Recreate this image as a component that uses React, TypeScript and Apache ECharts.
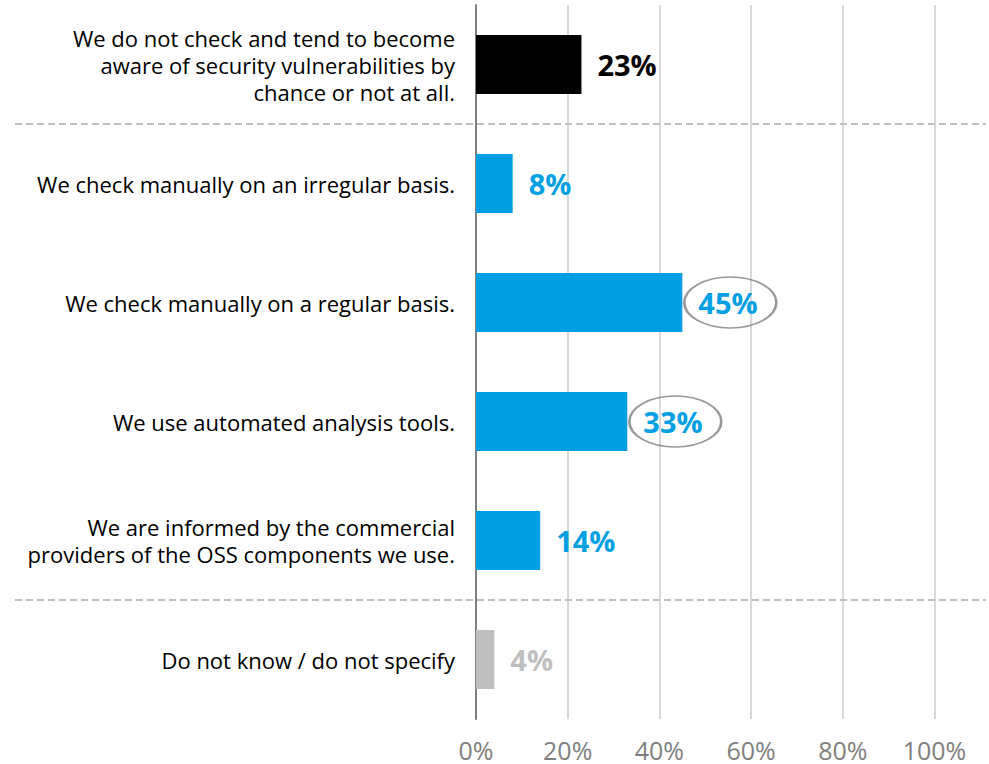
import React, { useEffect, useRef } from "react";
import * as echarts from "echarts";

const categories = [
  "We do not check and tend to become\naware of security vulnerabilities by\nchance or not at all.",
  "We check manually on an irregular basis.",
  "We check manually on a regular basis.",
  "We use automated analysis tools.",
  "We are informed by the commercial\nproviders of the OSS components we use.",
  "Do not know / do not specify",
];
const values = [23, 8, 45, 33, 14, 4];
const barColors = ["#000000", "#009FE3", "#009FE3", "#009FE3", "#009FE3", "#BFBFBF"];
const highlighted = [2, 3];
const separatorsAfter = [0, 4];
const xTicks = [0, 20, 40, 60, 80, 100];

const FONT = "'Open Sans', 'Noto Sans', sans-serif";

export default function App() {
  const ref = useRef<HTMLDivElement>(null);
  useEffect(() => {
    if (!ref.current) return;
    const chart = echarts.init(ref.current, null, { renderer: "svg" });
    const ellipsePath = "path://M0,50 A50,50 0 1,1 100,50 A50,50 0 1,1 0,50 Z";
    chart.setOption({
      animation: false,
      grid: { left: 476, right: 54.5, top: 5, bottom: 45, containLabel: false },
      xAxis: {
        type: "value",
        min: xTicks[0],
        max: xTicks[xTicks.length - 1],
        interval: 20,
        axisLine: { show: false },
        axisTick: { show: false },
        splitLine: { show: true, lineStyle: { color: "#D9D9D9", width: 2 } },
        axisLabel: {
          formatter: "{value}%",
          color: "#808080",
          fontSize: 25,
          lineHeight: 25,
          fontFamily: FONT,
          margin: 18,
        },
      },
      yAxis: {
        type: "category",
        inverse: true,
        data: categories,
        axisLine: { show: true, lineStyle: { color: "#808080", width: 2 } },
        axisTick: { show: false },
        axisLabel: {
          color: "#000000",
          fontSize: 22,
          lineHeight: 27,
          fontFamily: FONT,
          margin: 21,
          align: "right",
        },
      },
      series: [
        {
          type: "bar",
          barWidth: 59,
          data: values.map((v, i) => ({
            value: v,
            itemStyle: { color: barColors[i] },
            label: { color: barColors[i] },
          })),
          label: {
            show: true,
            position: "right",
            distance: 16,
            formatter: "{c}%",
            fontSize: 29,
            fontWeight: "bold",
            fontFamily: FONT,
          },
          z: 2,
        },
        {
          type: "scatter",
          data: highlighted.map((i) => [values[i], i]),
          symbol: ellipsePath,
          symbolSize: [92, 51],
          symbolOffset: [48, 0],
          itemStyle: { color: "rgba(0,0,0,0)", borderColor: "#808080", borderWidth: 2 },
          silent: true,
          z: 3,
        },
      ],
    });
    const graphics = separatorsAfter.map((i) => {
      const y1 = chart.convertToPixel({ yAxisIndex: 0 }, i) as number;
      const y2 = chart.convertToPixel({ yAxisIndex: 0 }, i + 1) as number;
      const y = (y1 + y2) / 2;
      return {
        type: "line",
        shape: { x1: 15, y1: y, x2: 986, y2: y },
        style: { stroke: "#C0C0C0", lineWidth: 2, lineDash: [7, 4] },
        z: 10,
      };
    });
    chart.setOption({ graphic: graphics });
    return () => chart.dispose();
  }, []);
  return <div ref={ref} style={{ width: 989, height: 764, position: "absolute", left: 0, top: 0 }} />;
}
